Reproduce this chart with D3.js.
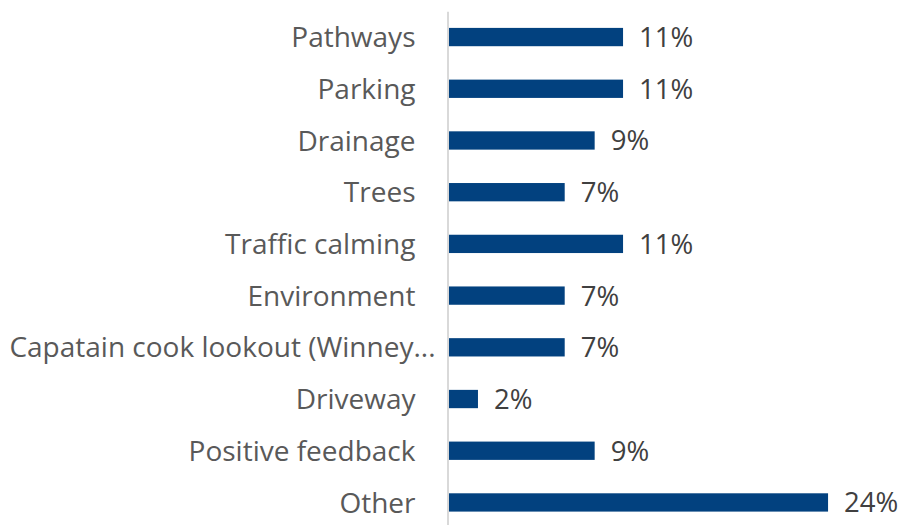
<!DOCTYPE html>
<html lang="en">
    <head>
        <meta charset="UTF-8">
        <title>Feedback topics</title>
        <script src="https://d3js.org/d3.v7.min.js"></script>
        <style>
            body {
                margin: 0;
                background: white;
                font-family: 'Open Sans', sans-serif;
            }
            .cat text {
                fill: #595959;
                font-size: 28px;
            }
            .val {
                fill: #404040;
                font-size: 27.5px;
            }
        </style>
    </head>
    <body>
        <svg id="chart" width="906" height="525"></svg>
        <script>
            // share of comments per topic (%)
            let categories = ['Pathways', 'Parking', 'Drainage', 'Trees', 'Traffic calming',
                'Environment', 'Capatain cook lookout (Winney...', 'Driveway', 'Positive feedback', 'Other']
            let values = [11.1, 11.1, 9.3, 7.4, 11.1, 7.4, 7.4, 1.9, 9.3, 24.1]

            let svg = d3.select('#chart')

            let x = d3.scaleLinear()
                .domain([0, 25])
                .range([448, 448 + 25 * 15.77])

            let y = d3.scaleBand()
                .domain(categories)
                .range([11.2, 528.3])
                .paddingInner(0.646)
                .paddingOuter(0.323)

            svg.selectAll('rect')
                .data(values)
                .enter()
                .append('rect')
                .attr('x', x(0))
                .attr('y', (d, i) => y(categories[i]))
                .attr('width', d => x(d) - x(0))
                .attr('height', y.bandwidth())
                .attr('fill', '#02417f')

            let axis = svg.append('g')
                .attr('class', 'cat')
                .attr('transform', 'translate(447.5,0)')
                .call(d3.axisLeft(y).tickSize(0).tickSizeOuter(0).tickPadding(32))
            axis.select('.domain').attr('stroke', '#d9d9d9').attr('stroke-width', 2)
            axis.selectAll('text')
                .attr('font-family', "'Open Sans', sans-serif")
                .attr('dy', '0.36em')
            // truncated label sits closer to the axis
            axis.selectAll('text')
                .filter(d => d.endsWith('...'))
                .attr('x', -12)

            svg.selectAll('.val')
                .data(values)
                .enter()
                .append('text')
                .attr('class', 'val')
                .attr('x', d => x(d) + 16)
                .attr('y', (d, i) => y(categories[i]) + y.bandwidth() / 2)
                .attr('dy', '0.36em')
                .text(d => d3.format('.0f')(d) + '%')
        </script>
    </body>
</html>
